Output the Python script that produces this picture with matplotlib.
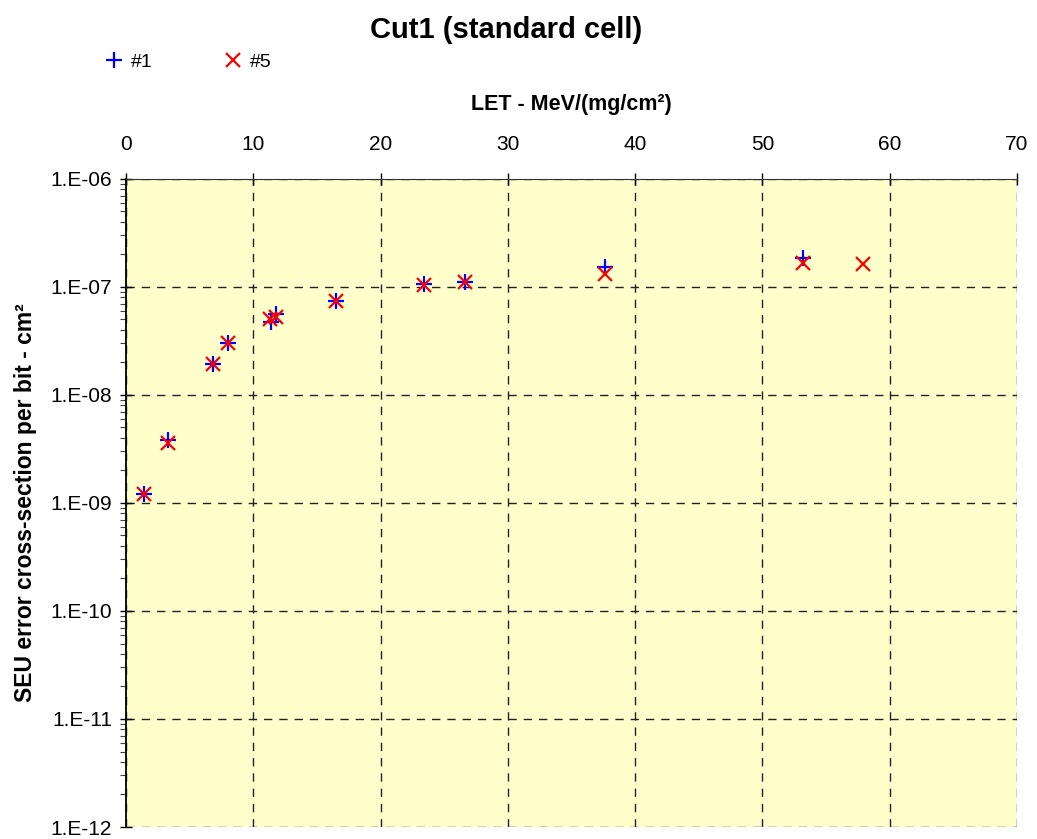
import matplotlib
matplotlib.use('Agg')
import matplotlib.pyplot as plt
from matplotlib.ticker import LogLocator, NullFormatter, FixedLocator

plt.rcParams['font.family'] = ['Liberation Sans', 'DejaVu Sans']

# LET values (MeV/(mg/cm2)) and cross-sections (cm2 per bit)
let_1 = [1.4, 3.3, 6.8, 8.0, 11.4, 11.8, 16.5, 23.4, 26.6, 37.6, 53.2]
xs_1 = [1.2e-9, 3.8e-9, 1.95e-8, 3.05e-8, 4.7e-8, 5.6e-8, 7.4e-8, 1.06e-7, 1.12e-7, 1.52e-7, 1.86e-7]

let_5 = [1.4, 3.3, 6.8, 8.0, 11.3, 11.8, 16.5, 23.4, 26.6, 37.6, 53.2, 57.9]
xs_5 = [1.2e-9, 3.6e-9, 1.95e-8, 3.05e-8, 5.1e-8, 5.3e-8, 7.4e-8, 1.05e-7, 1.12e-7, 1.31e-7, 1.66e-7, 1.62e-7]

y_ticks = [1e-12, 1e-11, 1e-10, 1e-9, 1e-8, 1e-7, 1e-6]
y_labels = ['1.E-12', '1.E-11', '1.E-10', '1.E-09', '1.E-08', '1.E-07', '1.E-06']

fig = plt.figure(figsize=(10.37, 8.39), dpi=100)
ax = fig.add_axes([0.1215, 0.0143, 0.8592, 0.7724])
ax.set_facecolor('#FFFFCC')

ax.plot(let_1, xs_1, linestyle='none', marker='+', color='#0000FF',
        markersize=11, markeredgewidth=1.6, label='#1', zorder=3)
ax.plot(let_5, xs_5, linestyle='none', marker='x', color='#FF0000',
        markersize=10, markeredgewidth=1.6, label='#5', zorder=4)

ax.set_yscale('log')
ax.set_xlim(0, 70)
ax.set_ylim(1e-12, 1e-6)
ax.set_xticks(range(0, 71, 10))
ax.yaxis.set_major_locator(FixedLocator(y_ticks))
ax.set_yticklabels(y_labels)
ax.yaxis.set_minor_locator(LogLocator(base=10, subs=range(2, 10), numticks=20))
ax.yaxis.set_minor_formatter(NullFormatter())

ax.xaxis.tick_top()
ax.xaxis.set_label_position('top')
ax.tick_params(axis='x', which='major', direction='inout', length=8, width=1,
               labelsize=15, pad=14)
ax.tick_params(axis='y', which='major', direction='inout', length=8, width=1,
               labelsize=15, pad=6)
ax.tick_params(axis='y', which='minor', direction='out', length=4, width=0.8,
               colors='#444444')

ax.grid(True, which='major', color='#222222', linestyle=(0, (6, 5)), linewidth=1)
ax.set_axisbelow(True)

for side in ['right', 'bottom']:
    ax.spines[side].set_visible(False)
ax.spines['top'].set_color('#333333')
ax.spines['left'].set_color('black')
ax.spines['left'].set_linewidth(1.3)

ax.set_xlabel('LET - MeV/(mg/cm²)', fontsize=15.5, fontweight='bold', labelpad=18)
ax.set_ylabel('SEU error cross-section per bit - cm²', fontsize=16.5,
              fontweight='bold', labelpad=10)

fig.text(0.488, 0.964, 'Cut1 (standard cell)', ha='center', va='center',
         fontsize=21, fontweight='bold')

fig.legend(loc='center left', bbox_to_anchor=(0.083, 0.926), ncol=2,
           frameon=False, fontsize=14, handletextpad=0.3, columnspacing=3.6,
           handlelength=1.1)

fig.savefig('out.png', dpi=100)
